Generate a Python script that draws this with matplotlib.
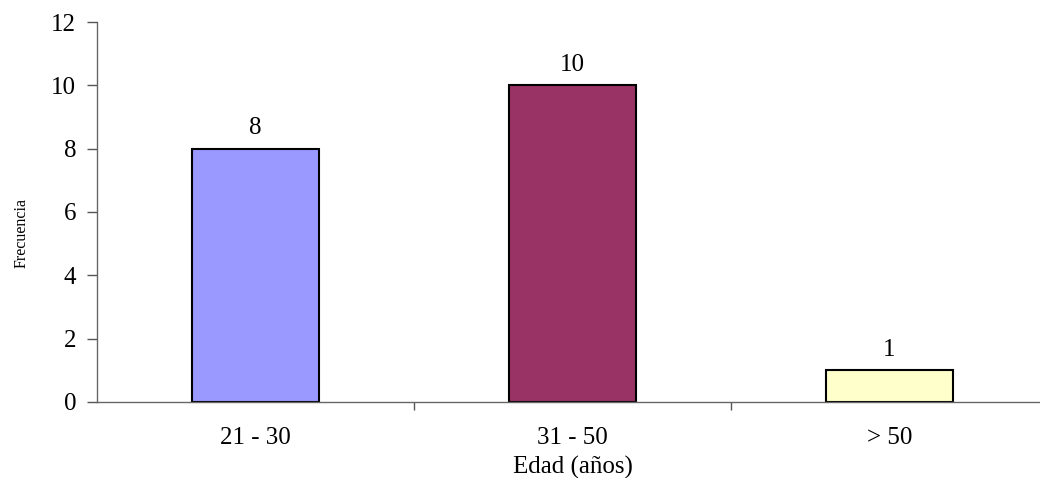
import matplotlib.pyplot as plt

# datos
categorias = ["21 - 30", "31 - 50", "> 50"]
frecuencia = [8, 10, 1]
colores = ["#9999FF", "#993366", "#FFFFCC"]

plt.rcParams['font.family'] = ['Liberation Serif', 'DejaVu Serif']

fig = plt.figure(figsize=(10.4, 4.78), dpi=100)
ax = fig.add_axes([97/1040, 76/478, (1048-97)/1040, 380/478])

x = range(len(categorias))
barras = ax.bar(x, frecuencia, width=0.40, color=colores, edgecolor="black", linewidth=1.5)
for xi, v in zip(x, frecuencia):
    ax.text(xi, v + 0.3, str(v), ha="center", va="bottom", fontsize=18)

ax.set_xlim(-0.5, len(categorias) - 0.5)
ax.set_ylim(0, 12)
ax.set_yticks(range(0, 13, 2))
ax.set_xticks(list(x))
ax.set_xticklabels(categorias, fontsize=18)
ax.set_xticks([0.5 + i for i in range(len(categorias))], minor=True)
ax.tick_params(axis="x", which="major", length=0, pad=18)
ax.tick_params(axis="x", which="minor", length=6, color="#555555", width=1)
ax.tick_params(axis="y", length=7, color="#555555", width=1, labelsize=18, pad=8)

for s in ["top", "right"]:
    ax.spines[s].set_visible(False)
for s in ["left", "bottom"]:
    ax.spines[s].set_color("#666666")
    ax.spines[s].set_linewidth(1)

ax.set_xlabel("Edad (años)", fontsize=18, labelpad=5)
ax.set_ylabel("Frecuencia", fontsize=11.5)
ax.yaxis.set_label_coords(-0.071, 0.445)

plt.savefig("out.png", dpi=100)
